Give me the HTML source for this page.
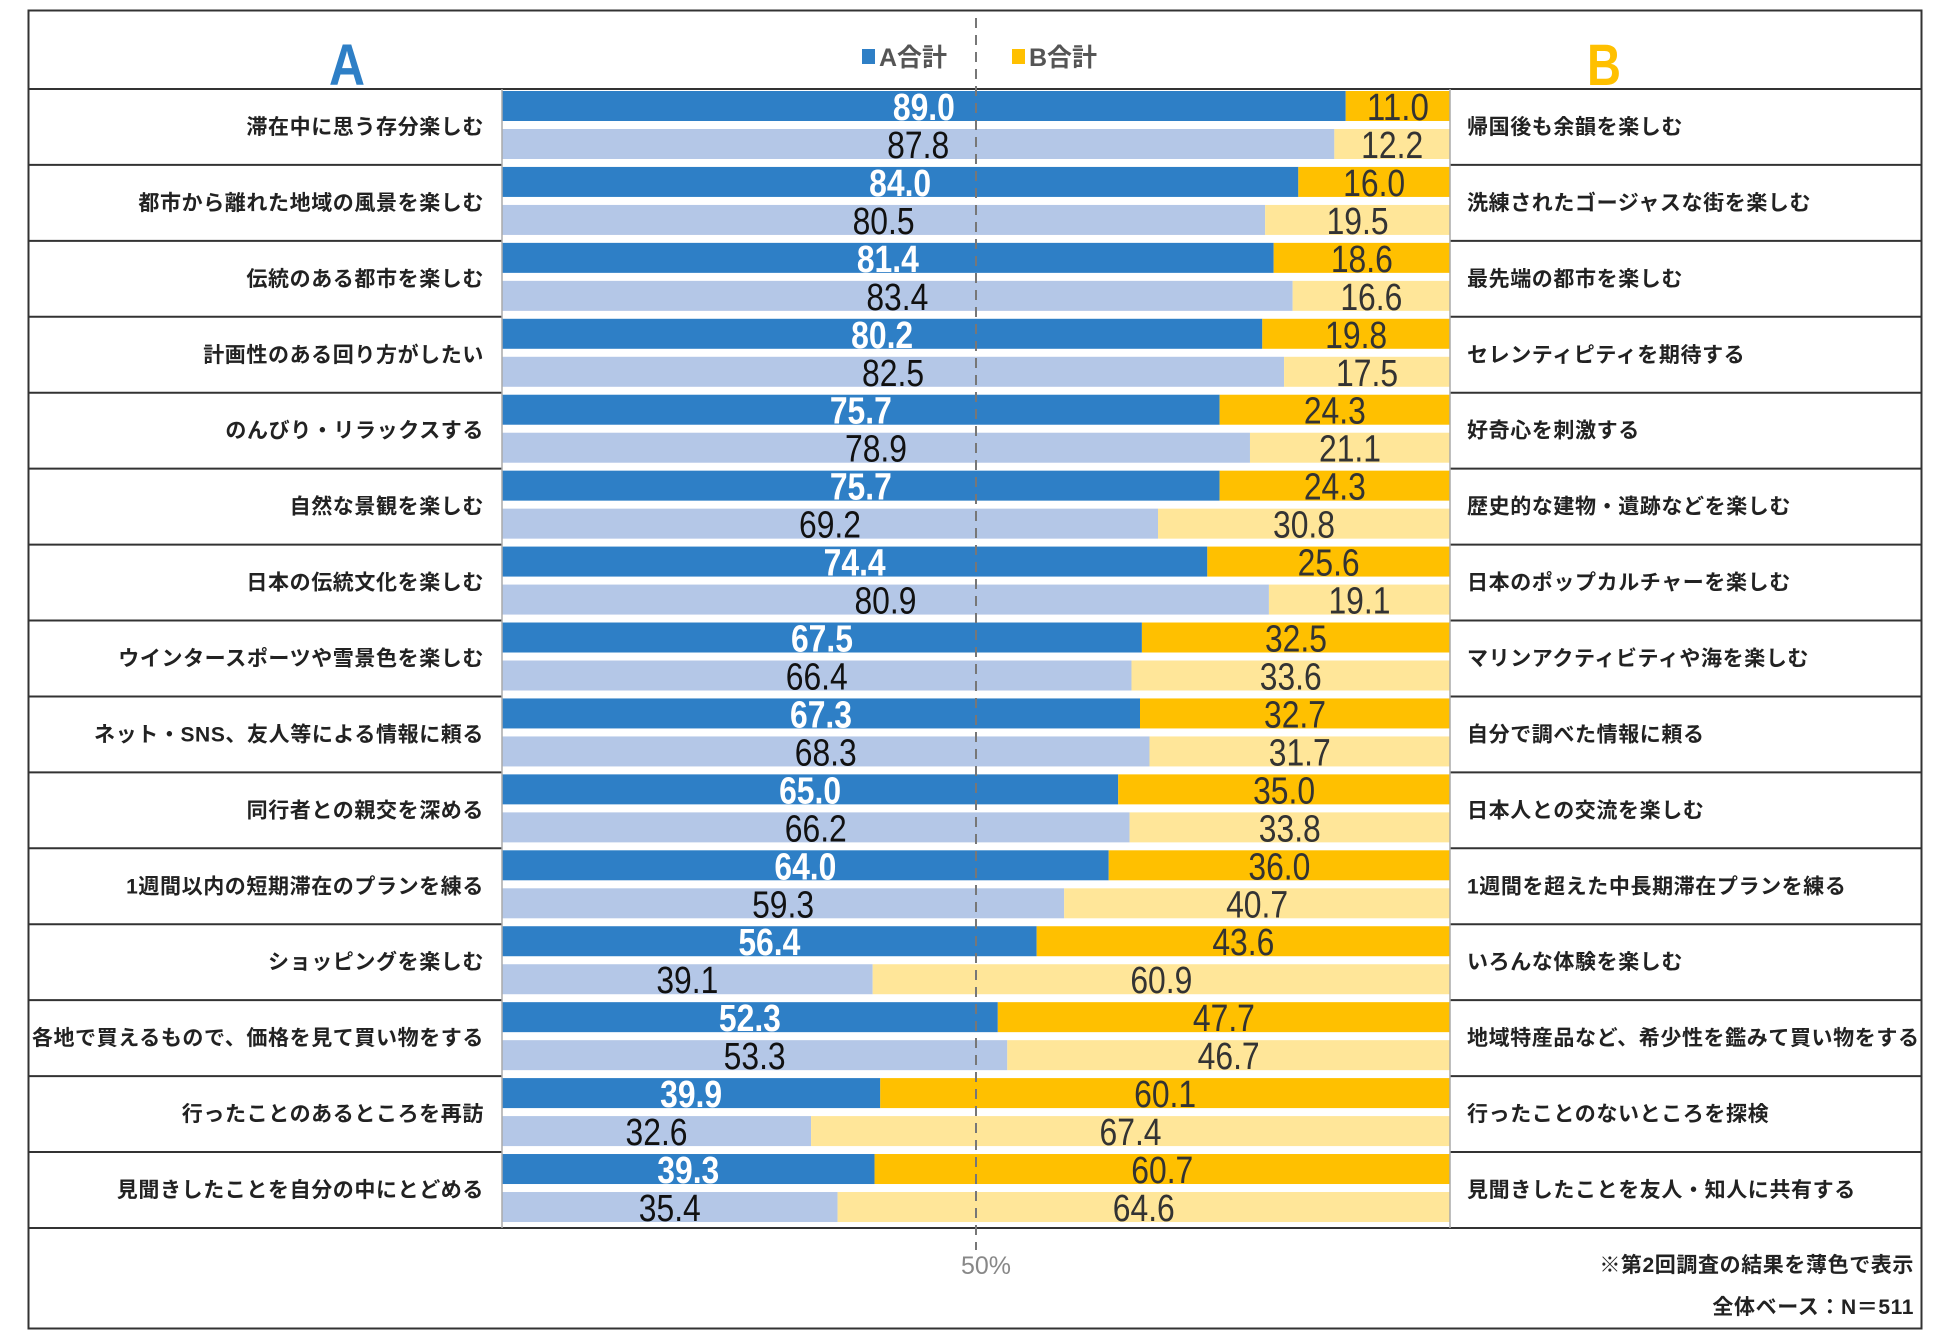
<!DOCTYPE html>
<html><head><meta charset="utf-8"><style>
body{margin:0;background:#fff;}
svg{display:block;}
text{font-family:"Liberation Sans","Noto Sans CJK JP",sans-serif;}
.lab{font-size:21px;font-weight:bold;fill:#222;letter-spacing:0.6px;}
.num{font-family:"Liberation Sans Narrow","Liberation Sans",sans-serif;font-size:38px;}
</style></head><body>
<svg id="chart" width="1950" height="1339" viewBox="0 0 1950 1339" xmlns="http://www.w3.org/2000/svg">
<rect x="28.5" y="10.5" width="1893" height="1318" fill="#fff" stroke="#333" stroke-width="2"/>
<text x="347" y="85" text-anchor="middle" font-weight="bold" font-size="58" fill="#2E7FC6" textLength="36" lengthAdjust="spacingAndGlyphs">A</text>
<text x="1604" y="85" text-anchor="middle" font-weight="bold" font-size="58" fill="#FFC000" textLength="34" lengthAdjust="spacingAndGlyphs">B</text>
<g>
<rect x="862" y="49" width="13" height="15" fill="#2E7FC6"/>
<text x="879" y="66" font-size="25" font-weight="bold" fill="#555">A合計</text>
<rect x="1012" y="49" width="13" height="15" fill="#FFC000"/>
<text x="1029" y="66" font-size="25" font-weight="bold" fill="#555">B合計</text>
</g>
<g id="rows"></g>
<line x1="976" y1="18" x2="976" y2="1250" stroke="#777" stroke-width="2" stroke-dasharray="10,7"/>
<text x="986" y="1274" text-anchor="middle" font-size="25" fill="#888" textLength="50" lengthAdjust="spacingAndGlyphs">50%</text>
<text x="1914" y="1272" text-anchor="end" font-size="21" font-weight="bold" fill="#222" letter-spacing="0.6">※第2回調査の結果を薄色で表示</text>
<text x="1914" y="1314" text-anchor="end" font-size="21" font-weight="bold" fill="#222" letter-spacing="0.6">全体ベース：N＝511</text>
</svg>
<script>
const labelsA=["滞在中に思う存分楽しむ","都市から離れた地域の風景を楽しむ","伝統のある都市を楽しむ","計画性のある回り方がしたい","のんびり・リラックスする","自然な景観を楽しむ","日本の伝統文化を楽しむ","ウインタースポーツや雪景色を楽しむ","ネット・SNS、友人等による情報に頼る","同行者との親交を深める","1週間以内の短期滞在のプランを練る","ショッピングを楽しむ","各地で買えるもので、価格を見て買い物をする","行ったことのあるところを再訪","見聞きしたことを自分の中にとどめる"];
const labelsB=["帰国後も余韻を楽しむ","洗練されたゴージャスな街を楽しむ","最先端の都市を楽しむ","セレンティピティを期待する","好奇心を刺激する","歴史的な建物・遺跡などを楽しむ","日本のポップカルチャーを楽しむ","マリンアクティビティや海を楽しむ","自分で調べた情報に頼る","日本人との交流を楽しむ","1週間を超えた中長期滞在プランを練る","いろんな体験を楽しむ","地域特産品など、希少性を鑑みて買い物をする","行ったことのないところを探検","見聞きしたことを友人・知人に共有する"];
const currentA=[89.0,84.0,81.4,80.2,75.7,75.7,74.4,67.5,67.3,65.0,64.0,56.4,52.3,39.9,39.3];
const previousA=[87.8,80.5,83.4,82.5,78.9,69.2,80.9,66.4,68.3,66.2,59.3,39.1,53.3,32.6,35.4];
const NS="http://www.w3.org/2000/svg";
const g=document.getElementById('rows');
const X0=502,X1=1450,TOP=89,RH=75.93,FL=29,FR=1921;
const x=v=>X0+(X1-X0)*v/100;
const y=i=>TOP+RH*i;
function mk(tag,attrs,txt){const e=document.createElementNS(NS,tag);for(const k in attrs)e.setAttribute(k,attrs[k]);if(txt!==undefined)e.textContent=txt;g.appendChild(e);return e;}
let hl=mk('line',{x1:FL,y1:TOP,x2:FR,y2:TOP,stroke:'#333','stroke-width':2});


for(let i=0;i<labelsA.length;i++){
  const ry=y(i);
  const rows=[[currentA[i],ry+2,'#2E7FC6','#FFC000','#fff','#333','bold','current'],[previousA[i],ry+40,'#B4C7E7','#FFE699','#111','#333','normal','previous']];
  for(const [v,by,ca,cb,ta,tb,fw,nm] of rows){
    const ra=mk('rect',{x:X0,y:by,width:x(v)-X0,height:30,fill:ca});
    
    
    const rb=mk('rect',{x:x(v),y:by,width:X1-x(v),height:30,fill:cb});
    
    
    const t1=mk('text',{x:(X0+x(v))/2,y:by+29,'text-anchor':'middle',class:'num',fill:ta,'font-weight':fw,textLength:62,lengthAdjust:'spacingAndGlyphs'},v.toFixed(1));
    
    
    const t2=mk('text',{x:(x(v)+X1)/2,y:by+29,'text-anchor':'middle',class:'num',fill:tb,textLength:62,lengthAdjust:'spacingAndGlyphs'},(100-v).toFixed(1));
    
    
  }
  const la=mk('text',{x:484,y:ry+RH/2+7,'text-anchor':'end',class:'lab'},labelsA[i]);
  
  
  const lb=mk('text',{x:1467,y:ry+RH/2+7,class:'lab'},labelsB[i]);
  
  
  const ly=y(i+1);
  const last=i===labelsA.length-1;
  const s1=mk('line',{x1:FL,y1:ly,x2:last?FR:X0,y2:ly,stroke:'#333','stroke-width':2});
  
  
  if(!last){
    const s2=mk('line',{x1:X1,y1:ly,x2:FR,y2:ly,stroke:'#333','stroke-width':2});
    
    
  }
}
const bl=mk('line',{x1:X0,y1:TOP,x2:X0,y2:y(15),stroke:'#aaa','stroke-width':1.5});


const br=mk('line',{x1:X1,y1:TOP,x2:X1,y2:y(15),stroke:'#aaa','stroke-width':1.5});


</script>
</body></html>
